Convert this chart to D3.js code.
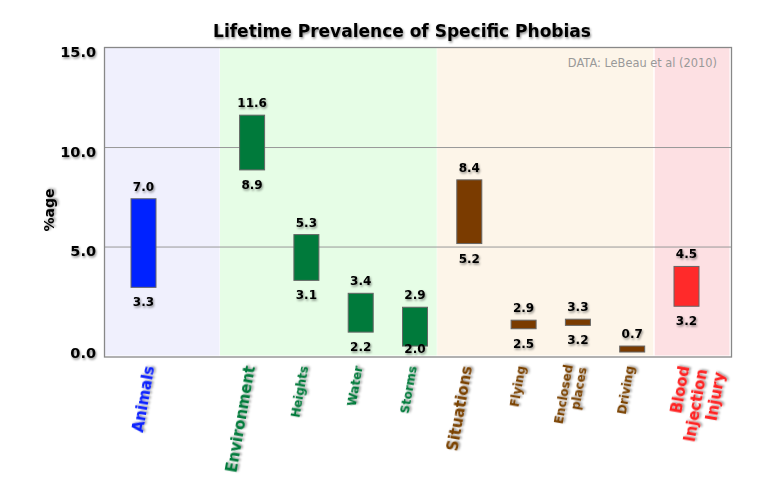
<!DOCTYPE html>
<meta charset="utf-8">
<style>
body{
	margin:0;
	background:#fff;
}
text{
	font-family:"DejaVu Sans", Verdana, sans-serif;
}
.title{
	font-size:17px;
	font-weight:bold;
	text-anchor:middle;
}
.tick{
	font-size:14.5px;
	font-weight:bold;
	text-anchor:end;
}
.val{
	font-size:12px;
	font-weight:bold;
	text-anchor:middle;
}
.note{
	font-size:11.4px;
	fill:#999;
	text-anchor:end;
}
.grid{
	stroke:#999;
	stroke-width:1px;
}
.bar{
	stroke:#666;
	stroke-width:1px;
}
</style>
<body>
<script src="https://d3js.org/d3.v7.min.js"></script>
<script>

var categories = ["Animals", "Environment", "Heights", "Water", "Storms",
	"Situations", "Flying", "Enclosed places", "Driving", "Blood Injection Injury"];
var groupOf = ["Animals", "Environment", "Environment", "Environment", "Environment",
	"Situations", "Situations", "Situations", "Situations", "Blood"];

// printed values
var highLabels = [7.0, 11.6, 5.3, 3.4, 2.9, 8.4, 2.9, 3.3, 0.7, 4.5];
var lowLabels  = [3.3, 8.9, 3.1, 2.2, 2.0, 5.2, 2.5, 3.2, null, 3.2];

// where the boxes actually sit in the picture (they don't follow the printed values)
var barTop    = [7.4, 11.6, 5.6, 2.65, 1.95, 8.35, 1.3, 1.35, 0.0, 4.0];
var barBottom = [2.95, 8.85, 3.3, 0.7, 0.0, 5.15, 0.87, 1.04, -0.3, 2.0];

var yTicks = [0, 5, 10, 15];

var groups = ["Animals", "Environment", "Situations", "Blood"];
var groupColor = {Animals:"#0022ff", Environment:"#007a3b", Situations:"#7a3b00", Blood:"#ff2a2a"};
var labelColor = {Animals:"#0a22ff", Environment:"#007a3b", Situations:"#7a4200", Blood:"#ff2020"};
var bandColor  = {Animals:"#f0f0fd", Environment:"#e6fde6", Situations:"#fdf5e9", Blood:"#fde0e3"};

var W = 767, H = 486;
var L = 104, R = 731, T = 47.5, B = 357;

var svg = d3.select("body").append("svg").attr("width", W).attr("height", H);

var defs = svg.append("defs");
defs.append("filter").attr("id","shadow")
	.attr("x","-20%").attr("y","-30%").attr("width","150%").attr("height","170%")
	.append("feDropShadow")
	.attr("dx",1).attr("dy",1.6).attr("stdDeviation",1)
	.attr("flood-color","#000").attr("flood-opacity",0.45);

var data = categories.map(function(c,i){
	return {name:c, group:groupOf[i], hi:highLabels[i], lo:lowLabels[i],
		top:barTop[i], bot:barBottom[i], major: i==0 || groupOf[i-1]!=groupOf[i]};
});

// a blank slot between Animals and Environment
var xDomain = [categories[0], " "].concat(categories.slice(1));
var x = d3.scalePoint().domain(xDomain).range([143.5, 686.5]);
var step = x.step();

var y = d3.scaleLinear().domain([-0.55, 15]).range([B, T]);

// background bands per group
var starts = groups.map(function(g){
	var first = data.find(d=>d.group==g);
	return g!="Animals" ? x(first.name) - 0.6*step : L;
});
groups.forEach(function(g,i){
	var x0 = starts[i], x1 = i<groups.length-1 ? starts[i+1] : R;
	svg.append("rect")
		.attr("x", x0 + (i>0 ? 0.5 : 0)).attr("y", T)
		.attr("width", x1 - x0 - (i>0 ? 0.5 : 0) - (i==groups.length-1 ? 1.5 : 0))
		.attr("height", B - T - 1.5)
		.attr("fill", bandColor[g]);
});
// thin white seam before the last band
svg.append("line")
	.attr("x1", starts[3]).attr("x2", starts[3])
	.attr("y1", T).attr("y2", B - 1.5)
	.attr("stroke","#fff").attr("stroke-width",1.2);

// grid lines
svg.selectAll(".grid").data(yTicks.filter(t=>t>0 && t<15)).enter()
	.append("line").attr("class","grid")
	.attr("x1", L).attr("x2", R)
	.attr("y1", d=>y(d)+0.5).attr("y2", d=>y(d)+0.5);

// frame
svg.append("rect")
	.attr("x", L+0.5).attr("y", T).attr("width", R-L).attr("height", B-T)
	.attr("fill","none").attr("stroke","#888").attr("stroke-width",1.3);

// y tick labels
svg.selectAll(".tick").data(yTicks).enter()
	.append("text").attr("class","tick")
	.attr("x", 96).attr("y", d=>y(d) + (d==0 ? 11.5 : 9.5))
	.attr("filter","url(#shadow)")
	.text(d=>d3.format(".1f")(d));

svg.append("text")
	.attr("transform","translate(54,210) rotate(-90)")
	.attr("text-anchor","middle")
	.style("font-size","14px").style("font-weight","bold")
	.attr("filter","url(#shadow)")
	.text("%age");

// boxes
svg.selectAll(".bar").data(data).enter()
	.append("rect").attr("class","bar")
	.attr("x", d=>x(d.name) - 12.5).attr("width", 25)
	.attr("y", d=>y(d.top)).attr("height", d=>y(d.bot) - y(d.top))
	.attr("fill", d=>groupColor[d.group]);

// printed values
svg.selectAll(".hi").data(data).enter()
	.append("text").attr("class","val")
	.attr("x", d=>x(d.name)).attr("y", d=>y(d.top) - 8)
	.attr("filter","url(#shadow)")
	.text(d=>d3.format(".1f")(d.hi));

svg.selectAll(".lo").data(data.filter(d=>d.lo!=null)).enter()
	.append("text").attr("class","val")
	.attr("x", d=>x(d.name)).attr("y", d=>Math.min(y(d.bot) + 19, B - 4))
	.attr("filter","url(#shadow)")
	.text(d=>d3.format(".1f")(d.lo));

// category labels, tilted
var lab = svg.selectAll(".cat").data(data).enter()
	.append("text").attr("class","cat")
	.attr("transform", d=>"translate(" + (x(d.name) - 2 + (d.name=="Animals" ? 8 : 0)) + ",366) rotate(-80)")
	.attr("text-anchor","end")
	.style("font-size", d=>d.major ? "15px" : "12px")
	.style("font-weight","bold")
	.attr("fill", d=>labelColor[d.group])
	.attr("filter","url(#shadow)");

lab.each(function(d){
	var lines = d.name=="Enclosed places" ? ["Enclosed","places"] : d.name.split(" ");
	var lh = d.major ? 18 : 14;
	var t = d3.select(this);
	lines.forEach(function(s,k){
		t.append("tspan").attr("x",0)
			.attr("dy", k==0 ? ((lines.length==2 ? -lh/2 : 0) + (d.major ? 5 : 4)) : lh)
			.text(s);
	});
});

svg.append("text").attr("class","title")
	.attr("x", 402).attr("y", 37)
	.attr("filter","url(#shadow)")
	.text("Lifetime Prevalence of Specific Phobias");

svg.append("text").attr("class","note")
	.attr("x", 717).attr("y", 67)
	.text("DATA: LeBeau et al (2010)");

</script>
</body>
</html>
